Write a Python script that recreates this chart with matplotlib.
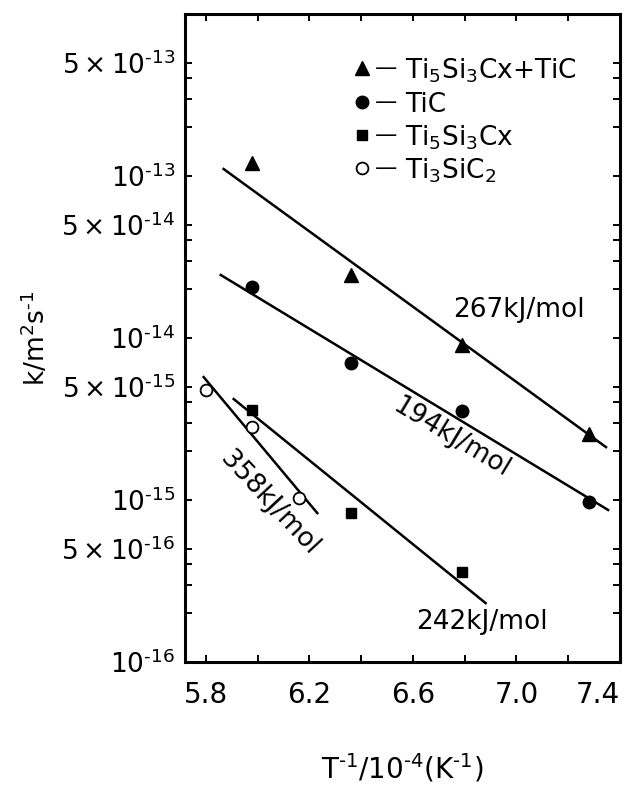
import matplotlib
matplotlib.use("Agg")
import matplotlib.pyplot as plt
from matplotlib.ticker import FixedLocator, NullFormatter

plt.rcParams['font.family'] = ['DejaVu Sans']
plt.rcParams['mathtext.fontset'] = 'dejavusans'

# Rate constants k (m^2 s^-1) versus reciprocal temperature (1e-4 K^-1)
x_ti5si3cx_tic = [5.98, 6.36, 6.79, 7.28]
k_ti5si3cx_tic = [1.20e-13, 2.45e-14, 9.05e-15, 2.56e-15]

x_tic = [5.98, 6.36, 6.79, 7.28]
k_tic = [2.07e-14, 7.0e-15, 3.54e-15, 9.7e-16]

x_ti5si3cx = [5.98, 6.36, 6.79]
k_ti5si3cx = [3.59e-15, 8.3e-16, 3.59e-16]

x_ti3sic2 = [5.80, 5.98, 6.16]
k_ti3sic2 = [4.78e-15, 2.82e-15, 1.03e-15]

# Arrhenius fit lines (end points)
fit_x_ti5si3cx_tic = [5.869, 7.346]
fit_k_ti5si3cx_tic = [1.105e-13, 2.12e-15]
fit_x_tic = [5.858, 7.354]
fit_k_tic = [2.45e-14, 8.68e-16]
fit_x_ti5si3cx = [5.908, 6.881]
fit_k_ti5si3cx = [4.2e-15, 2.31e-16]
fit_x_ti3sic2 = [5.792, 6.231]
fit_k_ti3sic2 = [5.74e-15, 8.3e-16]

# Activation energies and where they are written
energy_labels = ["267kJ/mol", "194kJ/mol", "358kJ/mol", "242kJ/mol"]
energy_x = [7.01, 6.75, 6.046, 6.865]
energy_k = [1.49e-14, 2.41e-15, 9.6e-16, 1.77e-16]
energy_rot = [0, -31, -47, 0]

legend_labels = [r"Ti$_5$Si$_3$Cx+TiC", "TiC", r"Ti$_5$Si$_3$Cx", r"Ti$_3$SiC$_2$"]

x_major = [5.8, 6.2, 6.6, 7.0, 7.4]
x_major_labels = ["5.8", "6.2", "6.6", "7.0", "7.4"]
x_minor = [6.0, 6.4, 6.8, 7.2]

y_major = [1e-16, 5e-16, 1e-15, 5e-15, 1e-14, 5e-14, 1e-13, 5e-13, 1e-12]
y_major_labels = [r"$10^{\text{-}16}$", r"$5\times10^{\text{-}16}$",
                  r"$10^{\text{-}15}$", r"$5\times10^{\text{-}15}$",
                  r"$10^{\text{-}14}$", r"$5\times10^{\text{-}14}$",
                  r"$10^{\text{-}13}$", r"$5\times10^{\text{-}13}$", ""]
y_minor = [m * 10.0 ** e for e in (-16, -15, -14, -13) for m in (2, 3, 4)]

fig = plt.figure(figsize=(6.26, 7.85), dpi=100)
ax = fig.add_axes([185 / 626, (785 - 662) / 785, 435 / 626, 648 / 785])
ax.set_yscale('log')
ax.set_xlim(5.72, 7.40)
ax.set_ylim(1e-16, 1e-12)

line_kw = dict(color='black', lw=1.8, zorder=2)
ax.plot(fit_x_ti5si3cx_tic, fit_k_ti5si3cx_tic, **line_kw)
ax.plot(fit_x_tic, fit_k_tic, **line_kw)
ax.plot(fit_x_ti5si3cx, fit_k_ti5si3cx, **line_kw)
ax.plot(fit_x_ti3sic2, fit_k_ti3sic2, **line_kw)

ax.plot(x_ti5si3cx_tic, k_ti5si3cx_tic, ls='none', marker='^', ms=10, color='black', zorder=3)
ax.plot(x_tic, k_tic, ls='none', marker='o', ms=9, color='black', zorder=3)
ax.plot(x_ti5si3cx, k_ti5si3cx, ls='none', marker='s', ms=7.5, color='black', zorder=3)
ax.plot(x_ti3sic2, k_ti3sic2, ls='none', marker='o', ms=8.5, mfc='white', mec='black',
        mew=1.3, zorder=3)

for lab, ex, ek, rot in zip(energy_labels, energy_x, energy_k, energy_rot):
    ax.text(ex, ek, lab, fontsize=19, rotation=rot, ha='center', va='center')

# Legend drawn as marker, dash and name on each row
legend_markers = [dict(marker='^', ms=10, color='black'),
                  dict(marker='o', ms=9, color='black'),
                  dict(marker='s', ms=7.5, color='black'),
                  dict(marker='o', ms=8.5, mfc='white', mec='black', mew=1.3)]
row_y = [0.9167, 0.864, 0.813, 0.762]
for lab, mk, ry in zip(legend_labels, legend_markers, row_y):
    ax.plot([0.407], [ry], transform=ax.transAxes, ls='none', clip_on=False, **mk)
    ax.text(0.437, ry, "—", transform=ax.transAxes, fontsize=16, va='center', ha='left')
    ax.text(0.505, ry - 0.0155, lab, transform=ax.transAxes, fontsize=19,
            va='baseline', ha='left')

ax.xaxis.set_major_locator(FixedLocator(x_major))
ax.set_xticklabels(x_major_labels)
ax.xaxis.set_minor_locator(FixedLocator(x_minor))
ax.yaxis.set_major_locator(FixedLocator(y_major))
ax.set_yticklabels(y_major_labels)
ax.yaxis.set_minor_locator(FixedLocator(y_minor))
ax.yaxis.set_minor_formatter(NullFormatter())

ax.tick_params(which='both', direction='in', length=5, width=1.4, top=True, right=True)
ax.tick_params(axis='x', which='major', labelsize=20, pad=14)
ax.tick_params(axis='y', which='major', labelsize=19, pad=7)
ax.get_xticklabels()[-1].set_horizontalalignment('right')

for sp in ax.spines.values():
    sp.set_linewidth(2.2)

ax.set_xlabel(r"T$^{\text{-}1}$/10$^{\text{-}4}$(K$^{\text{-}1}$)", fontsize=20, labelpad=30)
ax.set_ylabel(r"k/m$^{2}$s$^{\text{-}1}$", fontsize=19, labelpad=7)

fig.savefig("out.png", dpi=100)
